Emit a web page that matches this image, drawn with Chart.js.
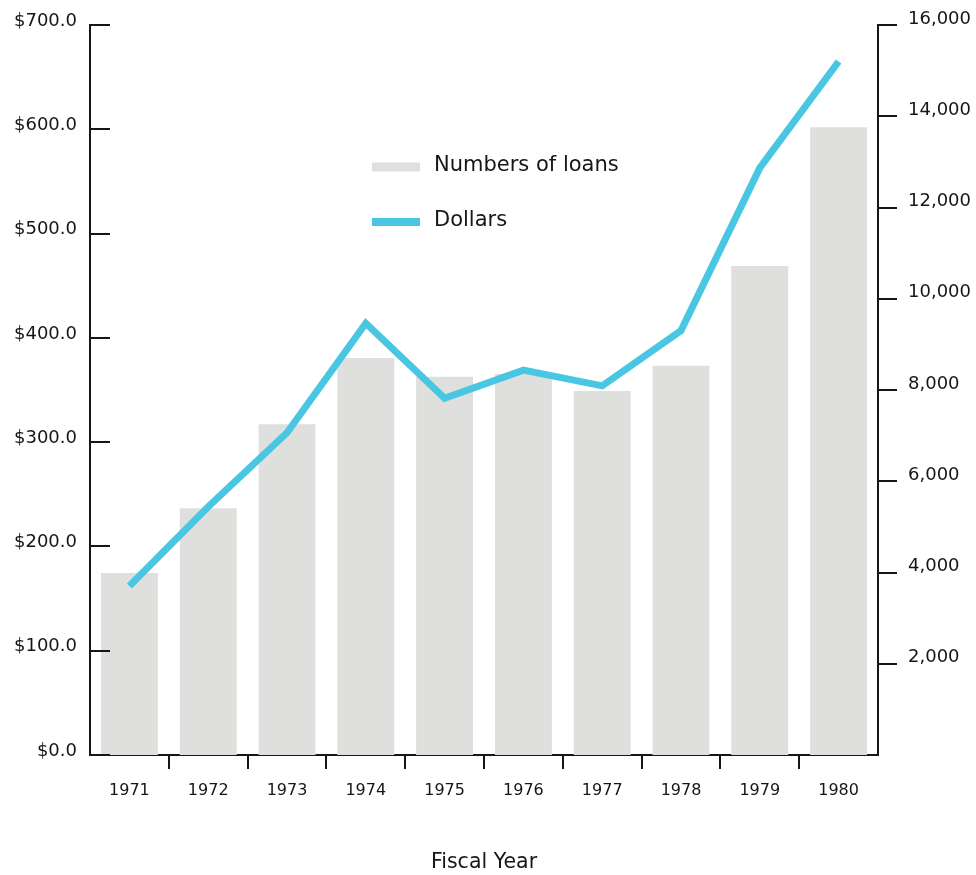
<!DOCTYPE html>
<html>
<head>
<meta charset="utf-8">
<title>Loans by Fiscal Year</title>
<script src="https://cdn.jsdelivr.net/npm/chart.js@4"></script>
<style>
    html, body { margin:0; padding:0; background:#fff; }
    #wrap { width:976px; height:875px; }
</style>
</head>
<body>
<div id="wrap"><canvas id="myChart" width="976" height="875"></canvas></div>
<script>
// data
let years=["1971","1972","1973","1974","1975","1976","1977","1978","1979","1980"];
let loans=[3990,5410,7250,8700,8290,8350,7980,8530,10720,13760]; // number of loans (right axis)
let dollars=[162,238,309,414,342,369,354,407,563,665]; // dollars (left axis)
let dollarTicks=[0,100,200,300,400,500,600,700];
let loanTicks=[0,2000,4000,6000,8000,10000,12000,14000,16000];

let barColor="#dfe0de";
let lineColor="#48c6e2";
let ink="#161616";
let fontFam="'DejaVu Sans', sans-serif";

// legend drawn inside the plot, like the original
let innerLegend={
    id:"innerLegend",
    afterDraw(chart){
        let ctx=chart.ctx;
        let area=chart.chartArea;
        let x=area.left+282;
        let rows=[
            {text:"Numbers of loans", color:barColor, y:area.top+142, h:9},
            {text:"Dollars", color:lineColor, y:area.top+197, h:8}
        ];
        ctx.save();
        ctx.font="21px "+fontFam;
        ctx.textBaseline="middle";
        rows.forEach(function(r){
            ctx.fillStyle=r.color;
            ctx.fillRect(x, r.y-r.h/2, 48, r.h);
            ctx.fillStyle=ink;
            ctx.fillText(r.text, x+62, r.y-1);
        });
        ctx.restore();
    }
};

// the left axis has its tick marks pointing into the plot
let inwardTicks={
    id:"inwardTicks",
    afterDraw(chart){
        let ctx=chart.ctx;
        let scale=chart.scales.yDollars;
        let left=chart.chartArea.left;
        ctx.save();
        ctx.strokeStyle=ink;
        ctx.lineWidth=2;
        ctx.beginPath();
        for(let i=0;i<scale.ticks.length;i++){
            let y=Math.round(scale.getPixelForTick(i));
            ctx.moveTo(left,y);
            ctx.lineTo(left+20,y);
        }
        ctx.stroke();
        ctx.restore();
    }
};

new Chart("myChart",{
    type:"bar",
    data:{
        labels:years,
        datasets:[{
            type:"line",
            label:"Dollars",
            data:dollars,
            yAxisID:"yDollars",
            borderColor:lineColor,
            borderWidth:7,
            pointRadius:0,
            tension:0,
            borderCapStyle:"butt",
            borderJoinStyle:"miter",
            order:1
        },{
            type:"bar",
            label:"Numbers of loans",
            data:loans,
            yAxisID:"yLoans",
            backgroundColor:barColor,
            barPercentage:0.723,
            categoryPercentage:1,
            order:2
        }]
    },
    options:{
        responsive:false,
        animation:false,
        layout:{padding:{top:25,right:0,bottom:0,left:0}},
        plugins:{
            legend:{display:false},
            tooltip:{enabled:false}
        },
        scales:{
            x:{
                offset:true,
                grid:{
                    offset:true,
                    drawOnChartArea:false,
                    tickLength:14,
                    lineWidth:2,
                    color:function(c){ return (c.type==="tick" && c.index>0) ? ink : "rgba(0,0,0,0)"; }
                },
                border:{color:ink,width:2},
                ticks:{color:ink,font:{family:fontFam,size:16},padding:12,maxRotation:0},
                title:{display:true,text:"Fiscal Year",color:ink,font:{family:fontFam,size:20.5},padding:{top:0,bottom:0}},
                afterFit:function(s){ s.height=120; }
            },
            yDollars:{
                position:"left",
                min:0,
                max:700,
                afterBuildTicks:function(s){ s.ticks=dollarTicks.map(function(v){ return {value:v}; }); },
                grid:{drawOnChartArea:false,drawTicks:false},
                border:{color:ink,width:2},
                ticks:{
                    color:ink,
                    font:{family:fontFam,size:18},
                    padding:13,
                    labelOffset:-4,
                    callback:function(v){ return "$"+Number(v).toFixed(1); }
                },
                afterFit:function(s){ s.width=90; }
            },
            yLoans:{
                position:"right",
                min:0,
                max:16000,
                afterBuildTicks:function(s){ s.ticks=loanTicks.map(function(v){ return {value:v}; }); },
                grid:{drawOnChartArea:false,tickLength:19,lineWidth:2,color:ink},
                border:{color:ink,width:2},
                ticks:{
                    color:ink,
                    font:{family:fontFam,size:18},
                    padding:11,
                    labelOffset:-6,
                    callback:function(v){ return v===0 ? null : Number(v).toLocaleString("en-US"); }
                },
                afterFit:function(s){ s.width=98; }
            }
        }
    },
    plugins:[innerLegend,inwardTicks]
});
</script>
</body>
</html>
